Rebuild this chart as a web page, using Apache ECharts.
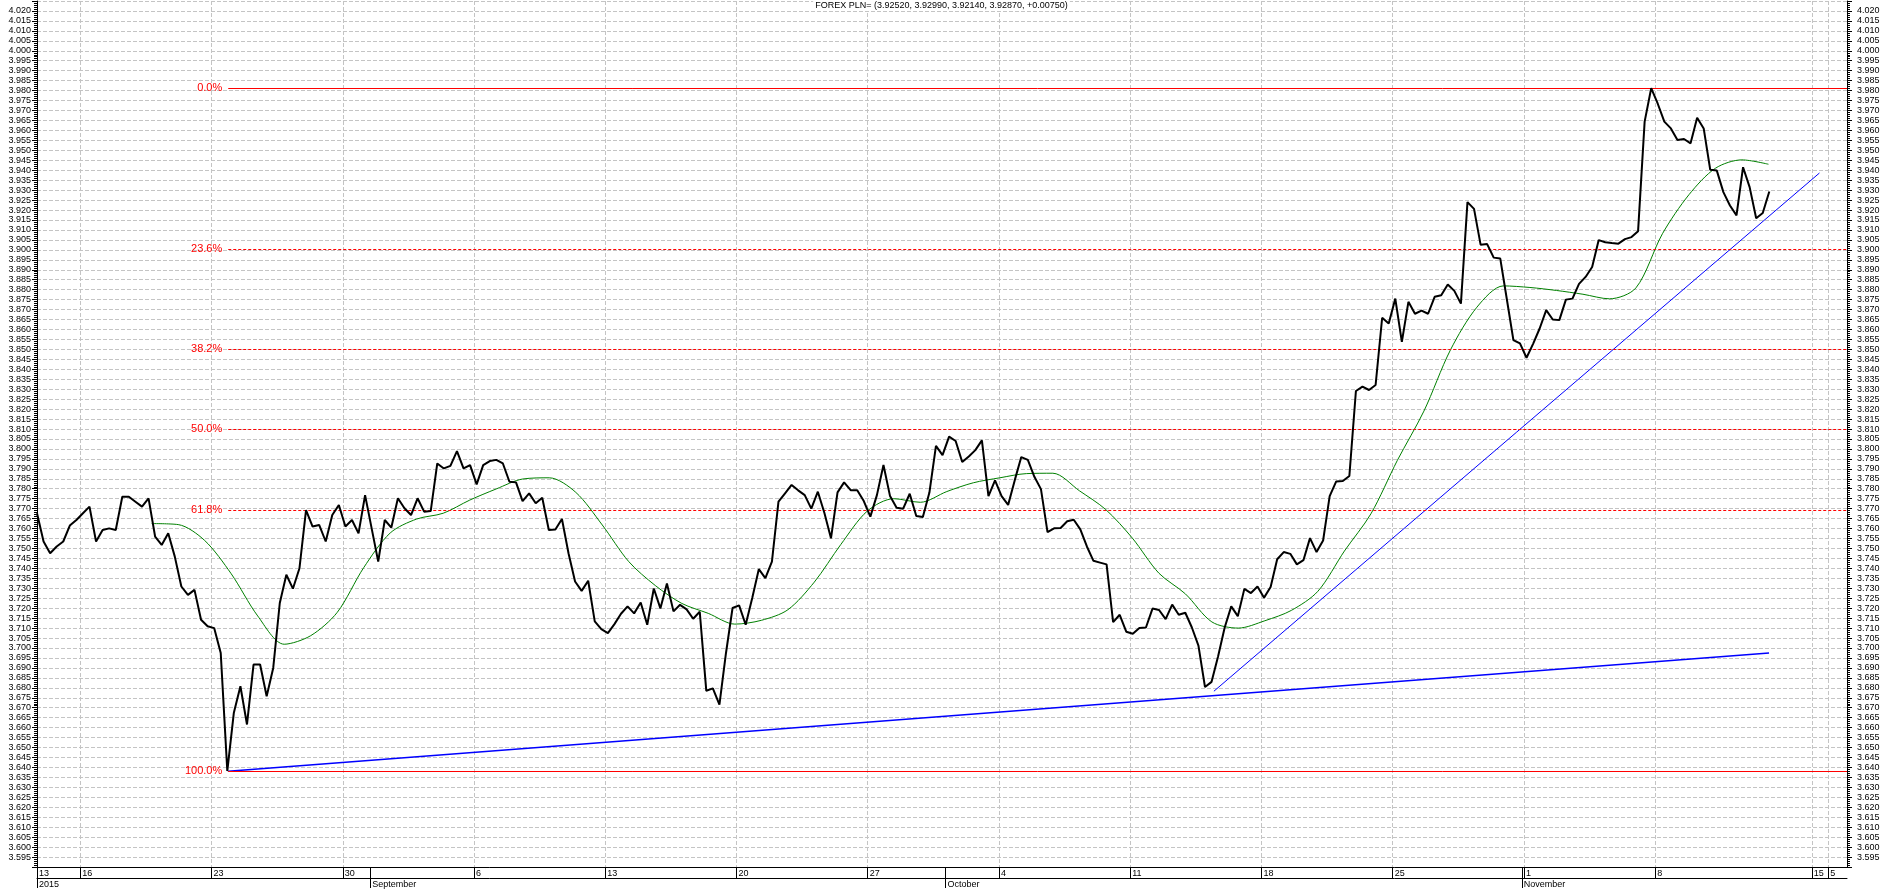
<!DOCTYPE html>
<html>
<head>
<meta charset="utf-8">
<title>FOREX PLN=</title>
<script src="https://cdn.jsdelivr.net/npm/echarts@6/dist/echarts.min.js"></script>
<style>
  html, body { margin: 0; padding: 0; background: #fff; }
  #chart { width: 1883px; height: 889px; }
</style>
</head>
<body>
<div id="chart"></div>
<script>
// x axis is counted in trading days, 0 = Sunday Aug 16 2015 (5 trading days per week)
const dayMin = -1.65
const dayMax = 67.31

// closing prices, one every quarter of a trading day, starting Aug 13
const priceStartDay = -1.65
const priceStepDay = 0.25
const closes = [
  3.7677, 3.7535, 3.7476, 3.7510, 3.7535, 3.7615, 3.7643, 3.7677, 3.7710, 3.7535,
  3.7593, 3.7601, 3.7593, 3.7760, 3.7760, 3.7735, 3.7710, 3.7752, 3.7560, 3.7518,
  3.7576, 3.7459, 3.7309, 3.7267, 3.7292, 3.7142, 3.7109, 3.7100, 3.6975, 3.6382,
  3.6675, 3.6808, 3.6616, 3.6917, 3.6917, 3.6758, 3.6900, 3.7226, 3.7368, 3.7298,
  3.7401, 3.7693, 3.7610, 3.7618, 3.7535, 3.7668, 3.7718, 3.7610, 3.7643, 3.7576,
  3.7768, 3.7601, 3.7434, 3.7643, 3.7605, 3.7752, 3.7702, 3.7668, 3.7752, 3.7685,
  3.7688, 3.7927, 3.7902, 3.7915, 3.7989, 3.7902, 3.7919, 3.7822, 3.7919, 3.7939,
  3.7945, 3.7927, 3.7835, 3.7832, 3.7738, 3.7777, 3.7727, 3.7755, 3.7593, 3.7595,
  3.7648, 3.7476, 3.7334, 3.7287, 3.7338, 3.7134, 3.7095, 3.7075, 3.7120, 3.7172,
  3.7209, 3.7174, 3.7229, 3.7117, 3.7299, 3.7199, 3.7324, 3.7184, 3.7217, 3.7194,
  3.7147, 3.7182, 3.6785, 3.6797, 3.6716, 3.6975, 3.7201, 3.7214, 3.7117, 3.7251,
  3.7396, 3.7351, 3.7434, 3.7735, 3.7777, 3.7819, 3.7792, 3.7768, 3.7700, 3.7785,
  3.7678, 3.7551, 3.7782, 3.7832, 3.7793, 3.7793, 3.7738, 3.7660, 3.7768, 3.7919,
  3.7763, 3.7705, 3.7700, 3.7775, 3.7663, 3.7658, 3.7781, 3.8015, 3.7969, 3.8062,
  3.8040, 3.7934, 3.7962, 3.7994, 3.8043, 3.7763, 3.7842, 3.7763, 3.7719, 3.7842,
  3.7959, 3.7945, 3.7860, 3.7798, 3.7582, 3.7601, 3.7603, 3.7637, 3.7644, 3.7596,
  3.7510, 3.7438, 3.7429, 3.7420, 3.7130, 3.7167, 3.7082, 3.7072, 3.7100, 3.7103,
  3.7198, 3.7191, 3.7145, 3.7218, 3.7167, 3.7177, 3.7103, 3.7012, 3.6804, 3.6830,
  3.6959, 3.7103, 3.7209, 3.7160, 3.7297, 3.7276, 3.7309, 3.7253, 3.7306, 3.7446,
  3.7482, 3.7473, 3.7420, 3.7441, 3.7552, 3.7482, 3.7540, 3.7763, 3.7837, 3.7839,
  3.7864, 3.8291, 3.8313, 3.8296, 3.8321, 3.8659, 3.8630, 3.8755, 3.8538, 3.8739,
  3.8679, 3.8695, 3.8679, 3.8764, 3.8772, 3.8826, 3.8794, 3.8730, 3.9240, 3.9206,
  3.9026, 3.9029, 3.8961, 3.8956, 3.8752, 3.8547, 3.8530, 3.8458, 3.8528, 3.8605,
  3.8697, 3.8650, 3.8647, 3.8750, 3.8755, 3.8829, 3.8864, 3.8914, 3.9049, 3.9038,
  3.9034, 3.9031, 3.9054, 3.9064, 3.9094, 3.9644, 3.9812, 3.9734, 3.9644, 3.9610,
  3.9552, 3.9557, 3.9535, 3.9664, 3.9610, 3.9402, 3.9398, 3.9290, 3.9223, 3.9173,
  3.9415, 3.9315, 3.9159, 3.9185, 3.9293
]

// moving average (green)
const maStartDay = 2.72
const maStepDay = 1.0098
const movingAvg = [
  3.7625, 3.7620, 3.7540, 3.7373, 3.7161, 3.7019, 3.7062, 3.7179, 3.7404, 3.7578,
  3.7648, 3.7677, 3.7743, 3.7799, 3.7849, 3.7855, 3.7782, 3.7618, 3.7434, 3.7314,
  3.7224, 3.7174, 3.7120, 3.7139, 3.7192, 3.7331, 3.7520, 3.7688, 3.7750, 3.7732,
  3.7786, 3.7830, 3.7855, 3.7876, 3.7878, 3.7790, 3.7695, 3.7552, 3.7376, 3.7272,
  3.7131, 3.7100, 3.7137, 3.7189, 3.7285, 3.7487, 3.7674, 3.7943, 3.8190, 3.8497,
  3.8712, 3.8819, 3.8811, 3.8796, 3.8777, 3.8754, 3.8809, 3.9081, 3.9277, 3.9410,
  3.9452, 3.9430
]

// Fibonacci retracement between the Aug 24 low and the Nov 9 high
const fibNames = ['0.0%', '23.6%', '38.2%', '50.0%', '61.8%', '100.0%']
const fibLevels = [3.9814, 3.9004, 3.8503, 3.8098, 3.7693, 3.6381]
const fibStartDay = 5.636

// trend lines (day, price)
const trendLong = [[5.636, 3.6381], [64.34, 3.6975]]
const trendSteep = [[43.19, 3.6783], [66.26, 3.9386]]

// bottom scale
const weekTicks = [-1.65, 0, 5, 10, 15, 20, 25, 30, 35, 40, 45, 50, 55, 60, 65.97, 66.6]
const weekLabels = ['13', '16', '23', '30', '6', '13', '20', '27', '4', '11', '18', '25', '1', '8', '15', '5']
const monthTicks = [-1.65, 11.05, 32.96, 54.92]
const monthLabels = ['2015', 'September', 'October', 'November']

const font = 'Arial, "Liberation Sans", sans-serif'
const gridLine = { show: true, lineStyle: { color: '#c4c4c4', width: 1, type: [4, 2] } }

function pick(ticks, labels) {
  return v => {
    const k = ticks.findIndex(t => Math.abs(t - v) < 1e-6)
    return k >= 0 ? labels[k] : ''
  }
}

function priceAxis(pos) {
  return {
    type: 'value',
    position: pos,
    min: 3.590,
    max: 4.025,
    interval: 0.005,
    axisLine: { show: true, onZero: false, lineStyle: { color: '#000', width: 1 } },
    axisTick: { show: true, length: 5, lineStyle: { color: '#000' } },
    minorTick: { show: true, splitNumber: 5, length: 3, lineStyle: { color: '#000' } },
    axisLabel: {
      formatter: v => v.toFixed(3),
      showMinLabel: false,
      showMaxLabel: false,
      margin: pos === 'left' ? 6 : 10,
      fontSize: 9,
      fontFamily: font,
      color: '#000'
    },
    splitLine: pos === 'left' ? gridLine : { show: false }
  }
}

const myChart = echarts.init(document.getElementById('chart'))
myChart.setOption({
  animation: false,
  backgroundColor: '#fff',
  title: {
    text: 'FOREX PLN= (3.92520, 3.92990, 3.92140, 3.92870, +0.00750)',
    left: 'center',
    top: 0,
    padding: [1, 2],
    backgroundColor: '#fff',
    textStyle: { fontSize: 9, fontWeight: 'normal', color: '#000', fontFamily: font }
  },
  grid: { left: 37, width: 1810, top: 1, height: 867 },
  xAxis: [
    {
      type: 'value',
      position: 'bottom',
      min: dayMin,
      max: dayMax,
      axisLine: { show: true, onZero: false, lineStyle: { color: '#000' } },
      axisTick: { show: true, length: 11, customValues: weekTicks, lineStyle: { color: '#000' } },
      axisLabel: {
        customValues: weekTicks,
        formatter: pick(weekTicks, weekLabels),
        showMinLabel: true,
        showMaxLabel: true,
        align: 'left',
        padding: [0, 0, 0, 2],
        margin: 2,
        fontSize: 9,
        fontFamily: font,
        color: '#000'
      },
      splitLine: gridLine
    },
    {
      type: 'value',
      position: 'bottom',
      min: dayMin,
      max: dayMax,
      axisLine: { show: false, onZero: false },
      axisTick: { show: true, length: 21, customValues: monthTicks, lineStyle: { color: '#000' } },
      axisLabel: {
        customValues: monthTicks,
        formatter: pick(monthTicks, monthLabels),
        showMinLabel: true,
        showMaxLabel: true,
        align: 'left',
        padding: [0, 0, 0, 2],
        margin: 13,
        fontSize: 9,
        fontFamily: font,
        color: '#000'
      },
      splitLine: { show: false }
    },
    {
      type: 'value',
      position: 'bottom',
      offset: 11,
      min: dayMin,
      max: dayMax,
      axisLine: { show: true, onZero: false, lineStyle: { color: '#000' } },
      axisTick: { show: false },
      axisLabel: { show: false },
      splitLine: { show: false }
    }
  ],
  yAxis: [priceAxis('left'), priceAxis('right')],
  series: [
    {
      name: 'trend long',
      type: 'line',
      data: trendLong,
      symbol: 'none',
      z: 3,
      lineStyle: { color: '#0000ff', width: 1.6 }
    },
    {
      name: 'trend steep',
      type: 'line',
      data: trendSteep,
      symbol: 'none',
      z: 3,
      lineStyle: { color: '#0000ff', width: 1 }
    },
    {
      name: 'moving average',
      type: 'line',
      data: movingAvg.map((v, k) => [maStartDay + k * maStepDay, v]),
      symbol: 'none',
      smooth: 0.3,
      z: 4,
      lineStyle: { color: '#008000', width: 1 }
    },
    {
      name: 'PLN=',
      type: 'line',
      data: closes.map((v, i) => [priceStartDay + i * priceStepDay, v]),
      symbol: 'none',
      z: 5,
      lineStyle: { color: '#000', width: 2 },
      markLine: {
        silent: true,
        symbol: ['none', 'none'],
        lineStyle: { color: '#ff0000', width: 1 },
        label: { show: true, position: 'start', distance: 6, color: '#ff0000', fontSize: 11, fontFamily: font },
        data: fibLevels.map((v, i) => [
          {
            coord: [fibStartDay, v],
            lineStyle: { type: (i === 0 || i === fibLevels.length - 1) ? 'solid' : [3, 2] },
            label: { formatter: fibNames[i] }
          },
          { coord: [dayMax, v] }
        ])
      }
    }
  ]
})
</script>
</body>
</html>
